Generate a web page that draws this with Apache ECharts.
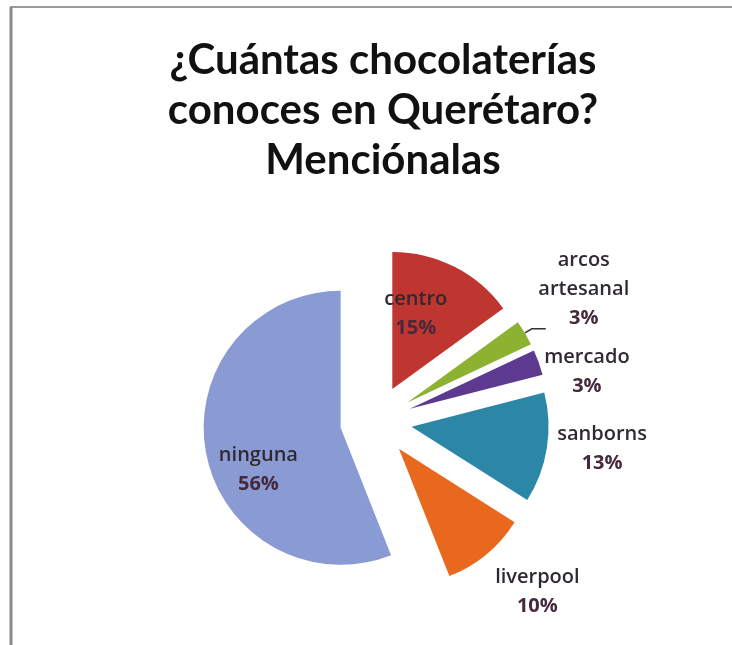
<!DOCTYPE html>
<html>
<head>
<meta charset="utf-8">
<script src="https://cdn.jsdelivr.net/npm/echarts@6/dist/echarts.min.js"></script>
<style>
  html, body { margin: 0; padding: 0; background: #ffffff; }
  #chart { width: 732px; height: 645px; }
</style>
</head>
<body>
<div id="chart"></div>
<script>
// Survey answers: chocolate shops known in Querétaro (percent of respondents)
const categories = ['centro', 'arcos artesanal', 'mercado', 'sanborns', 'liverpool', 'ninguna'];
const values = [15, 3, 3, 13, 10, 56];
const colors = ['#BF3530', '#8DB231', '#5B3A8F', '#2C87A6', '#E8691E', '#8A9BD4'];
const titleLines = ['¿Cuántas chocolaterías', 'conoces en Querétaro?', 'Menciónalas'];

const insideNames = ['centro', 'ninguna'];

// Nudges applied to each label after the pie lays it out
const labelNudges = {
  'centro': [-9, -11],
  'arcos artesanal': [33, -40],
  'mercado': [18, -38],
  'sanborns': [42, -39],
  'liverpool': [27, 22],
  'ninguna': [-12, 29]
};

const chart = echarts.init(document.getElementById('chart'));

const pieData = categories.map((name, i) => ({
  name: name,
  value: values[i],
  selected: true,
  itemStyle: { color: colors[i] },
  label: {
    position: insideNames.includes(name) ? 'inside' : 'outside',
    formatter: (name === 'arcos artesanal' ? '{n|arcos}\n{n|artesanal}' : '{n|{b}}') + '\n{p|{c}%}'
  },
  labelLine: { show: name === 'arcos artesanal' }
}));

chart.setOption({
  animation: false,
  backgroundColor: '#ffffff',
  title: {
    text: titleLines.join('\n'),
    left: 378,
    top: 30,
    textAlign: 'center',
    textStyle: {
      fontFamily: 'Lato',
      fontWeight: 'bold',
      fontSize: 42,
      lineHeight: 50,
      color: '#111111'
    }
  },
  graphic: [
    { type: 'line', shape: { x1: 10, y1: 7, x2: 732, y2: 7 }, style: { stroke: '#9a9a9a', lineWidth: 2 } },
    { type: 'line', shape: { x1: 11, y1: 7, x2: 11, y2: 645 }, style: { stroke: '#8a8a8a', lineWidth: 3 } }
  ],
  series: [{
    type: 'pie',
    center: [376, 421],
    radius: 137,
    startAngle: 90,
    clockwise: true,
    selectedMode: 'multiple',
    selectedOffset: 36,
    emphasis: { disabled: true },
    label: {
      fontFamily: 'Open Sans',
      fontWeight: 600,
      fontSize: 20,
      lineHeight: 29,
      align: 'center',
      rich: {
        n: { fontFamily: 'Open Sans', fontWeight: 600, fontSize: 20, lineHeight: 29, color: '#2f2a31' },
        p: { fontFamily: 'Open Sans', fontWeight: 'bold', fontSize: 20, lineHeight: 29, color: '#45293d' }
      }
    },
    labelLine: {
      length: 8,
      length2: 14,
      lineStyle: { color: '#333333', width: 1.5 }
    },
    labelLayout: function (params) {
      const n = labelNudges[categories[params.dataIndex]];
      return { dx: n[0], dy: n[1], align: 'center', verticalAlign: 'middle' };
    },
    data: pieData
  }]
});
</script>
</body>
</html>
